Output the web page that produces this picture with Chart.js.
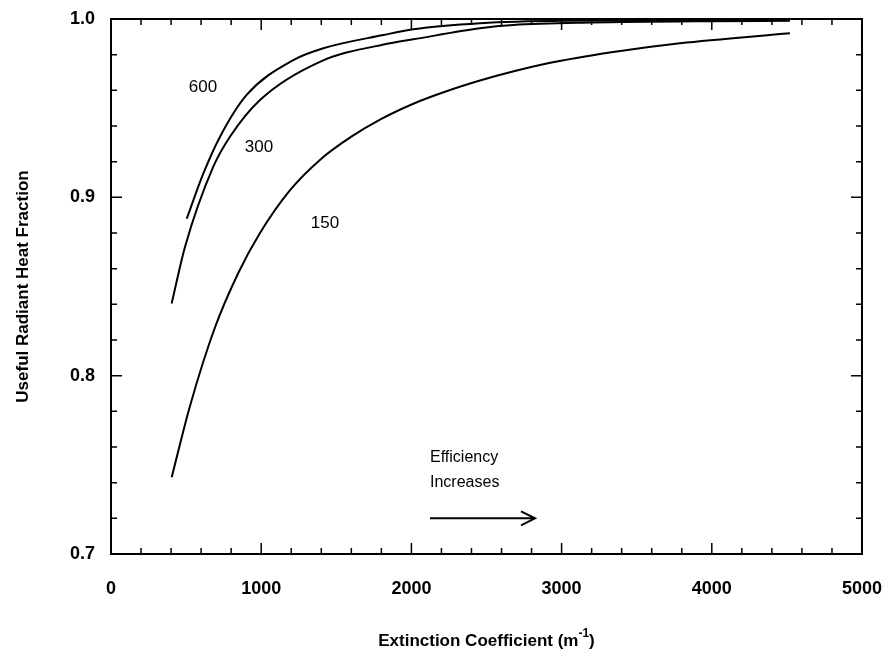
<!DOCTYPE html>
<html>
<head>
<meta charset="utf-8">
<script src="https://cdn.jsdelivr.net/npm/chart.js@4/dist/chart.umd.min.js"></script>
<style>
  html, body { margin: 0; padding: 0; background: #fff; }
  #wrap { width: 892px; height: 661px; }
</style>
</head>
<body>
<div id="wrap"><canvas id="chart"></canvas></div>
<script>
// extinction coefficient (1/m) and useful radiant heat fraction
var ext150 = [404, 526, 692, 850, 992, 1192, 1391, 1600, 1800, 2013, 2200, 2457, 2901, 3344, 3788, 4520];
var frac150 = [0.743, 0.783, 0.827, 0.858, 0.880, 0.904, 0.921, 0.934, 0.944, 0.9525, 0.9585, 0.9655, 0.975, 0.9815, 0.9864, 0.992];
var ext300 = [404, 493, 681, 792, 992, 1391, 1858, 2013, 2457, 2679, 3200, 4000, 4520];
var frac300 = [0.8405, 0.8723, 0.9172, 0.934, 0.9546, 0.976, 0.9864, 0.9886, 0.9948, 0.9966, 0.998, 0.9988, 0.999];
var ext600 = [504, 615, 726, 903, 1214, 1414, 1813, 2013, 2457, 3000, 4520];
var frac600 = [0.888, 0.9134, 0.934, 0.9574, 0.977, 0.9836, 0.991, 0.9942, 0.9976, 0.999, 0.9995];
var seriesNames = ["150", "300", "600"];
var xTicks = [0, 1000, 2000, 3000, 4000, 5000];
var yTicks = [0.7, 0.8, 0.9, 1.0];

var FONT = "'Liberation Sans', Arial, sans-serif";

function toPoints(xs, ys) {
    var pts = [];
    for (var i = 0; i < xs.length; i++) pts.push({x: xs[i], y: ys[i]});
    return pts;
}

function lineSet(label, xs, ys) {
    return {
        label: label,
        data: toPoints(xs, ys),
        showLine: true,
        borderColor: '#000',
        borderWidth: 2,
        pointRadius: 0,
        cubicInterpolationMode: 'monotone',
        fill: false
    };
}

// curve labels and the arrow note, placed in data coordinates
var curveLabels = [
    {text: "600", x: 612, y: 0.9619},
    {text: "300", x: 985, y: 0.9282},
    {text: "150", x: 1425, y: 0.8856}
];

var framePlugin = {
    id: 'frame',
    afterDraw: function(chart) {
        var ctx = chart.ctx;
        var a = chart.chartArea;
        var xs = chart.scales.x, ys = chart.scales.y;
        ctx.save();
        ctx.strokeStyle = '#000';
        ctx.lineWidth = 2;
        ctx.strokeRect(a.left, a.top, a.right - a.left, a.bottom - a.top);

        // inward ticks on all four sides
        ctx.lineWidth = 1.5;
        ctx.beginPath();
        for (var v = 0; v <= 5000; v += 200) {
            var px = xs.getPixelForValue(v);
            var len = (v % 1000 === 0) ? 11 : 6;
            ctx.moveTo(px, a.bottom); ctx.lineTo(px, a.bottom - len);
            ctx.moveTo(px, a.top); ctx.lineTo(px, a.top + len);
        }
        for (var k = 0; k <= 15; k++) {
            var yv = 0.7 + k * 0.02;
            var py = ys.getPixelForValue(yv);
            var ylen = (k % 5 === 0) ? 11 : 6;
            ctx.moveTo(a.left, py); ctx.lineTo(a.left + ylen, py);
            ctx.moveTo(a.right, py); ctx.lineTo(a.right - ylen, py);
        }
        ctx.stroke();

        // curve labels
        ctx.fillStyle = '#000';
        ctx.font = '17px ' + FONT;
        ctx.textAlign = 'center';
        ctx.textBaseline = 'middle';
        curveLabels.forEach(function(l) {
            ctx.fillText(l.text, xs.getPixelForValue(l.x), ys.getPixelForValue(l.y));
        });

        // efficiency note and arrow
        ctx.textAlign = 'left';
        ctx.font = '16px ' + FONT;
        var tx = xs.getPixelForValue(2124);
        ctx.fillText("Efficiency", tx, ys.getPixelForValue(0.7538));
        ctx.fillText("Increases", tx, ys.getPixelForValue(0.7398));
        var ay = ys.getPixelForValue(0.720);
        var ax1 = xs.getPixelForValue(2124), ax2 = xs.getPixelForValue(2823);
        ctx.lineWidth = 2;
        ctx.beginPath();
        ctx.moveTo(ax1, ay); ctx.lineTo(ax2, ay);
        ctx.moveTo(ax2 - 14, ay - 7); ctx.lineTo(ax2, ay); ctx.lineTo(ax2 - 14, ay + 7);
        ctx.stroke();

        // axis titles
        ctx.font = 'bold 17px ' + FONT;
        ctx.textBaseline = 'alphabetic';
        var main = "Extinction Coefficient (m";
        var sup = "-1";
        var close = ")";
        var w1 = ctx.measureText(main).width;
        ctx.font = 'bold 12px ' + FONT;
        var w2 = ctx.measureText(sup).width;
        ctx.font = 'bold 17px ' + FONT;
        var w3 = ctx.measureText(close).width;
        var cx = (a.left + a.right) / 2;
        var start = cx - (w1 + w2 + w3) / 2;
        var base = 646;
        ctx.fillText(main, start, base);
        ctx.font = 'bold 12px ' + FONT;
        ctx.fillText(sup, start + w1, base - 9);
        ctx.font = 'bold 17px ' + FONT;
        ctx.fillText(close, start + w1 + w2, base);

        ctx.save();
        ctx.translate(28, (a.top + a.bottom) / 2);
        ctx.rotate(-Math.PI / 2);
        ctx.textAlign = 'center';
        ctx.fillText("Useful Radiant Heat Fraction", 0, 0);
        ctx.restore();
        ctx.restore();
    }
};

var ctx = document.getElementById('chart').getContext('2d');
var chart = new Chart(ctx, {
    type: 'scatter',
    data: {
        datasets: [
            lineSet(seriesNames[0], ext150, frac150),
            lineSet(seriesNames[1], ext300, frac300),
            lineSet(seriesNames[2], ext600, frac600)
        ]
    },
    options: {
        responsive: true,
        maintainAspectRatio: false,
        animation: false,
        layout: {padding: {left: 0, right: 30, top: 19, bottom: 0}},
        plugins: {
            legend: {display: false},
            tooltip: {enabled: false}
        },
        scales: {
            x: {
                type: 'linear',
                min: 0,
                max: 5000,
                afterBuildTicks: function(scale) {
                    scale.ticks = xTicks.map(function(v) { return {value: v}; });
                },
                afterFit: function(scale) {
                    scale.height = 107;
                    scale.paddingLeft = 0;
                    scale.paddingRight = 0;
                },
                grid: {display: false},
                border: {display: false},
                ticks: {
                    color: '#000',
                    padding: 16,
                    maxRotation: 0,
                    font: {family: FONT, size: 18, weight: 'bold'},
                    callback: function(v) { return String(v); }
                }
            },
            y: {
                type: 'linear',
                min: 0.7,
                max: 1.0,
                afterBuildTicks: function(scale) {
                    scale.ticks = yTicks.map(function(v) { return {value: v}; });
                },
                afterFit: function(scale) {
                    scale.width = 111;
                    scale.paddingTop = 0;
                    scale.paddingBottom = 0;
                },
                grid: {display: false},
                border: {display: false},
                ticks: {
                    color: '#000',
                    padding: 8,
                    font: {family: FONT, size: 18, weight: 'bold'},
                    callback: function(v) { return Number(v).toFixed(1); }
                }
            }
        }
    },
    plugins: [framePlugin]
});
</script>
</body>
</html>
